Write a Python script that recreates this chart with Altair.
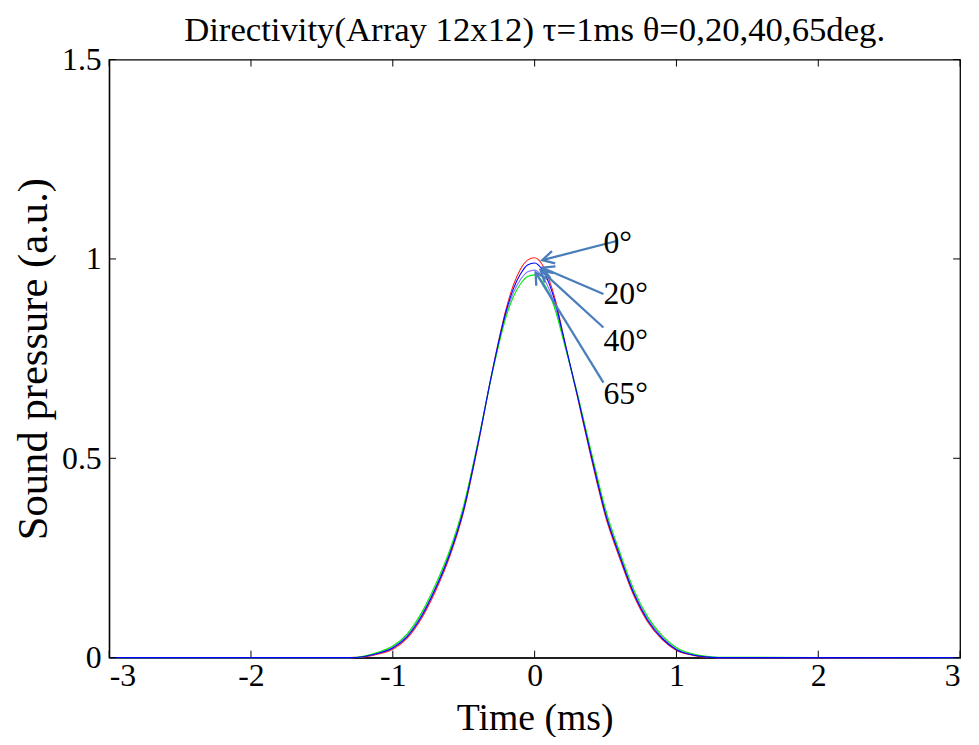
import math
import altair as alt
import pandas as pd

# ---- data ----
time_ms = [-3.0, -1.3, -1.2, -1.1, -1.0, -0.9, -0.8, -0.7, -0.6, -0.5, -0.4, -0.3, -0.2, -0.15,
           -0.1, -0.05, 0.0, 0.05, 0.1, 0.15, 0.2, 0.3, 0.4, 0.5, 0.6, 0.7, 0.8, 0.9, 1.0, 1.1,
           1.2, 1.3, 3.0]

p_0deg = [0, 0, 0.002, 0.009, 0.021, 0.048, 0.097, 0.166, 0.252, 0.367, 0.532, 0.716, 0.876, 0.934,
          0.974, 0.997, 1.003, 0.988, 0.95, 0.892, 0.812, 0.657, 0.499, 0.354, 0.249, 0.155, 0.088,
          0.045, 0.018, 0.007, 0.001, 0, 0]
p_20deg = [0, 0, 0.003, 0.011, 0.024, 0.052, 0.102, 0.172, 0.258, 0.372, 0.535, 0.715, 0.870, 0.925,
           0.962, 0.985, 0.99, 0.975, 0.94, 0.885, 0.81, 0.66, 0.505, 0.36, 0.255, 0.16, 0.092,
           0.048, 0.02, 0.008, 0.002, 0, 0]
p_40deg = [0, 0, 0.003, 0.012, 0.026, 0.055, 0.106, 0.176, 0.262, 0.376, 0.538, 0.714, 0.864, 0.915,
           0.948, 0.968, 0.972, 0.958, 0.926, 0.874, 0.805, 0.661, 0.509, 0.365, 0.259, 0.164, 0.096,
           0.051, 0.022, 0.009, 0.003, 0, 0]
p_65deg = [0, 0, 0.004, 0.014, 0.029, 0.059, 0.111, 0.182, 0.268, 0.382, 0.54, 0.712, 0.856, 0.905,
           0.937, 0.956, 0.96, 0.946, 0.915, 0.866, 0.80, 0.664, 0.515, 0.372, 0.265, 0.17, 0.101,
           0.055, 0.025, 0.011, 0.004, 0.001, 0]

series_names = ["0°", "40°", "65°", "20°"]          # drawing order (blue on top)
series_values = [p_0deg, p_40deg, p_65deg, p_20deg]
series_colors = ["#ff2020", "#8a78ff", "#00ee00", "#0000ff"]

x_ticks = [-3, -2, -1, 0, 1, 2, 3]
y_ticks = [0, 0.5, 1, 1.5]

# annotation labels and arrows (data units)
ann_labels = ["0°", "20°", "40°", "65°"]
ann_text_x = [0.485, 0.485, 0.485, 0.485]
ann_text_y = [1.04, 0.913, 0.795, 0.662]
arrow_tail_x = [0.578, 0.485, 0.485, 0.485]
arrow_tail_y = [1.045, 0.912, 0.828, 0.690]
arrow_head_x = [0.054, 0.054, 0.042, 0.007]
arrow_head_y = [0.997, 0.978, 0.972, 0.966]

TITLE = "Directivity(Array 12x12) \u03c4=1ms \u03b8=0,20,40,65deg."

# ---- layout ----
W, H = 858, 603
XMIN, XMAX, YMIN, YMAX = -3, 3, 0, 1.5
FONT = "Liberation Serif"
ARROW = "#4a7ebb"

rows = []
for name, vals in zip(series_names, series_values):
    for t, v in zip(time_ms, vals):
        rows.append({"t": t, "p": v, "series": name})
df = pd.DataFrame(rows)

ann = pd.DataFrame({
    "label": ann_labels, "tx": ann_text_x, "ty": ann_text_y,
    "x1": arrow_tail_x, "y1": arrow_tail_y, "x2": arrow_head_x, "y2": arrow_head_y,
})
ang = []
for a, b, c, d in zip(arrow_tail_x, arrow_tail_y, arrow_head_x, arrow_head_y):
    dx = (c - a) * W / (XMAX - XMIN)
    dy = -(d - b) * H / (YMAX - YMIN)
    ang.append(math.degrees(math.atan2(dy, dx)) % 360)
ann["angle"] = ang

xscale = alt.Scale(domain=[XMIN, XMAX], nice=False, zero=False)
yscale = alt.Scale(domain=[YMIN, YMAX], nice=False, zero=False)

lines = alt.Chart(df).mark_line(strokeWidth=1.1, interpolate="monotone").encode(
    x=alt.X("t:Q", scale=xscale,
            axis=alt.Axis(values=x_ticks, title="Time (ms)", labelExpr="'' + datum.value",
                          labelPadding=3, titlePadding=8, labelFontSize=32, titleFontSize=38)),
    y=alt.Y("p:Q", scale=yscale,
            axis=alt.Axis(values=y_ticks, title="Sound pressure (a.u.)",
                          labelExpr="'' + datum.value", labelPadding=8, titlePadding=6,
                          labelFontSize=32, titleFontSize=43)),
    color=alt.Color("series:N", scale=alt.Scale(domain=series_names, range=series_colors),
                    legend=None),
    order=alt.Order("t:Q"),
)

xt = pd.DataFrame({"v": x_ticks})
yt = pd.DataFrame({"v": y_ticks})
TL = 7
tick_b = alt.Chart(xt).mark_rule(color="black", strokeWidth=1).encode(
    x=alt.X("v:Q", scale=xscale), y=alt.value(H), y2=alt.value(H - TL))
tick_t = alt.Chart(xt).mark_rule(color="black", strokeWidth=1).encode(
    x=alt.X("v:Q", scale=xscale), y=alt.value(0), y2=alt.value(TL))
tick_l = alt.Chart(yt).mark_rule(color="black", strokeWidth=1).encode(
    y=alt.Y("v:Q", scale=yscale), x=alt.value(0), x2=alt.value(TL))
tick_r = alt.Chart(yt).mark_rule(color="black", strokeWidth=1).encode(
    y=alt.Y("v:Q", scale=yscale), x=alt.value(W), x2=alt.value(W - TL))

shafts = alt.Chart(ann).mark_rule(color=ARROW, strokeWidth=2.3).encode(
    x=alt.X("x1:Q", scale=xscale), y=alt.Y("y1:Q", scale=yscale),
    x2="x2:Q", y2="y2:Q")
heads = alt.Chart(ann).mark_point(
    shape="M -1 -0.55 L 0 0 L -1 0.55", filled=False, stroke=ARROW, strokeWidth=2.3,
    size=550, opacity=1, strokeJoin="miter",
).encode(
    x=alt.X("x2:Q", scale=xscale), y=alt.Y("y2:Q", scale=yscale),
    angle=alt.Angle("angle:Q", scale=None))
labels = alt.Chart(ann).mark_text(
    align="left", baseline="middle", font=FONT, fontSize=32, color="black"
).encode(x=alt.X("tx:Q", scale=xscale), y=alt.Y("ty:Q", scale=yscale), text="label:N")

chart = alt.layer(lines, tick_b, tick_t, tick_l, tick_r, shafts, heads, labels).properties(
    width=W, height=H,
    title=alt.TitleParams(TITLE, font=FONT, fontSize=35, fontWeight="normal",
                          color="black", offset=-4),
    autosize=alt.AutoSizeParams(type="none"),
    padding={"left": 102, "top": 49, "right": 11, "bottom": 77},
).configure_view(stroke="black", strokeWidth=1.3).configure_axis(
    grid=False, tickSize=0, domainColor="black", domainWidth=1.3,
    labelFont=FONT, labelColor="black",
    titleFont=FONT, titleColor="black", titleFontWeight="normal",
)

chart.save("out.html", embed_options={"renderer": "svg", "actions": False})
